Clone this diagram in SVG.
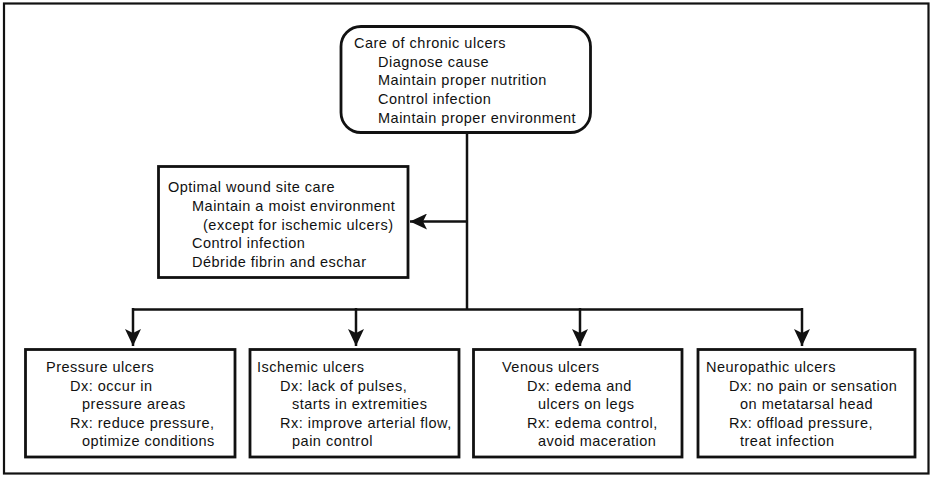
<svg xmlns="http://www.w3.org/2000/svg" width="933" height="479" viewBox="0 0 933 479">
<defs>
<style>
text{font-family:"Liberation Sans",Arial,sans-serif;font-size:14.5px;letter-spacing:0.5px;fill:#111}
.box{fill:#fff;stroke:#111;stroke-width:2.8}
.ln{fill:none;stroke:#111;stroke-width:2.5}
</style>
<marker id="ah" markerUnits="userSpaceOnUse" markerWidth="18" markerHeight="16" refX="17" refY="8" orient="auto">
<path d="M0,0 L17,8 L0,16 L4,8 Z" fill="#111"/>
</marker>
</defs>
<rect x="4" y="3.5" width="924.5" height="470" fill="#fff" stroke="#111" stroke-width="2.2"/>
<g id="connectors">
<path class="ln" d="M467,133 V309.5"/>
<path class="ln" d="M467,221.5 H410" marker-end="url(#ah)"/>
<path class="ln" d="M133,309.5 H802"/>
<path class="ln" d="M133,308 V346" marker-end="url(#ah)"/>
<path class="ln" d="M356,308 V346" marker-end="url(#ah)"/>
<path class="ln" d="M580,308 V346" marker-end="url(#ah)"/>
<path class="ln" d="M802,308 V346" marker-end="url(#ah)"/>
</g>
<g id="care">
<rect class="box" x="341" y="26.5" width="249.5" height="106" rx="20"/>
<text x="354" y="47.5">Care of chronic ulcers</text>
<text x="378" y="66.5">Diagnose cause</text>
<text x="378" y="85">Maintain proper nutrition</text>
<text x="378" y="103.5">Control infection</text>
<text x="378" y="122.5">Maintain proper environment</text>
</g>
<g id="optimal">
<rect class="box" x="158.5" y="166.5" width="249.5" height="111"/>
<text x="168" y="192">Optimal wound site care</text>
<text x="192" y="210.5">Maintain a moist environment</text>
<text x="203" y="229.5">(except for ischemic ulcers)</text>
<text x="192" y="248">Control infection</text>
<text x="192" y="267">Débride fibrin and eschar</text>
</g>
<g id="pressure">
<rect class="box" x="25.5" y="349.5" width="209.5" height="107.5"/>
<text x="46" y="372">Pressure ulcers</text>
<text x="70" y="390.5">Dx: occur in</text>
<text x="82" y="409">pressure areas</text>
<text x="70" y="427.5">Rx: reduce pressure,</text>
<text x="82" y="446">optimize conditions</text>
</g>
<g id="ischemic">
<rect class="box" x="250" y="349.5" width="209" height="107.5"/>
<text x="257" y="372">Ischemic ulcers</text>
<text x="280" y="390.5">Dx: lack of pulses,</text>
<text x="292" y="409">starts in extremities</text>
<text x="280" y="427.5">Rx: improve arterial flow,</text>
<text x="292" y="446">pain control</text>
</g>
<g id="venous">
<rect class="box" x="473.5" y="349.5" width="208.5" height="107.5"/>
<text x="502" y="372">Venous ulcers</text>
<text x="527" y="390.5">Dx: edema and</text>
<text x="538" y="409">ulcers on legs</text>
<text x="527" y="427.5">Rx: edema control,</text>
<text x="538" y="446">avoid maceration</text>
</g>
<g id="neuropathic">
<rect class="box" x="698" y="349.5" width="217" height="107.5"/>
<text x="706" y="372">Neuropathic ulcers</text>
<text x="729" y="390.5">Dx: no pain or sensation</text>
<text x="740" y="409">on metatarsal head</text>
<text x="729" y="427.5">Rx: offload pressure,</text>
<text x="740" y="446">treat infection</text>
</g>
</svg>
